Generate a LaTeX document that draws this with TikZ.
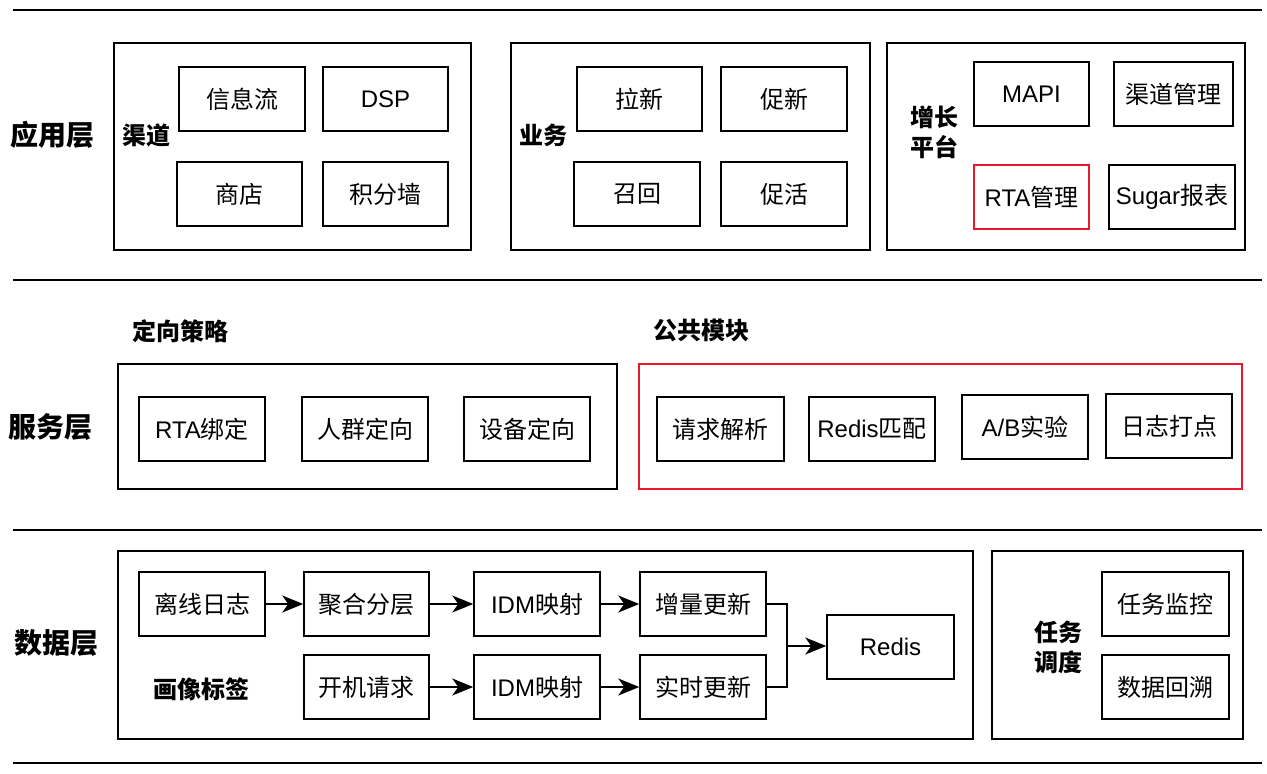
\documentclass[tikz,border=0pt]{standalone}
\usepackage{fontspec}
\setmainfont{Noto Sans CJK SC}
\newfontfamily\latinfont{Liberation Sans}
\usetikzlibrary{arrows.meta}
\newcommand\lat[1]{{\latinfont #1}}
\definecolor{hl}{HTML}{E8192C}
% box given by its corners: [options]{name}{x1}{y1}{x2}{y2}{text}
\newcommand\cbox[7][]{%
  \node[box,#1,minimum width={(#5)-(#3)},minimum height={(#6)-(#4)}]
    (#2) at ({((#3)+(#5))/2},{((#4)+(#6))/2}) {#7};}
\begin{document}
\begin{tikzpicture}[x=1pt,y=-1pt,
  box/.style={draw,line width=1.5pt,inner sep=0pt,align=center,
    font=\fontsize{24}{28}\selectfont},
  frame/.style={box},
  hlframe/.style={box,draw=hl},
  sublabel/.style={inner sep=0pt,align=center,
    font=\fontsize{24}{30}\selectfont\bfseries},
  layerlabel/.style={inner sep=0pt,font=\fontsize{28}{32}\selectfont\bfseries},
  sepline/.style={line width=2pt},
  link/.style={line width=1.5pt},
  arr/.style={link,-{Stealth[length=21pt,width=17pt,inset=6pt]}}]
\useasboundingbox (0,0) rectangle (1267,774);

% layer separators
\draw[sepline] (13,10) -- (1262,10);
\draw[sepline] (13,280) -- (1262,280);
\draw[sepline] (13,530) -- (1262,530);
\draw[sepline] (13,763) -- (1262,763);

% ---------- application layer ----------
\node[layerlabel] (appl) at (52,135) {应用层};

\cbox[frame]{chbox}{114}{43}{471}{250}{}
\node[sublabel] (chl) at (146,135) {渠道};
\cbox{xxl}{179}{67}{305}{131}{信息流}
\cbox{dsp}{323}{67}{448}{131}{\lat{DSP}}
\cbox{shop}{177}{162}{302}{226}{商店}
\cbox{jfq}{323}{162}{448}{226}{积分墙}

\cbox[frame]{ywbox}{511}{43}{870}{250}{}
\node[sublabel] (ywl) at (543,135) {业务};
\cbox{lx}{577}{67}{702}{131}{拉新}
\cbox{cx}{721}{67}{847}{131}{促新}
\cbox{zh}{574}{162}{700}{226}{召回}
\cbox{ch}{721}{162}{847}{226}{促活}

\cbox[frame]{zzbox}{887}{43}{1245}{250}{}
\node[sublabel] (zzl) at (934,132) {增长\\平台};
\cbox{mapi}{974}{62}{1089}{126}{\lat{MAPI}}
\cbox{qdgl}{1114}{62}{1233}{126}{渠道管理}
\cbox[draw=hl]{rtagl}{974}{165}{1089}{229}{\lat{RTA}管理}
\cbox{sugar}{1109}{165}{1235}{229}{\lat{Sugar}报表}

% ---------- service layer ----------
\node[layerlabel] (svcl) at (51,427) {服务层};

\node[sublabel] (dxl) at (180,331) {定向策略};
\cbox[frame]{dxbox}{118}{364}{617}{489}{}
\cbox{rtabd}{139}{397}{265}{461}{\lat{RTA}绑定}
\cbox{rqdx}{302}{397}{428}{461}{人群定向}
\cbox{sbdx}{464}{397}{590}{461}{设备定向}

\node[sublabel] (ggl) at (701,330) {公共模块};
\cbox[hlframe]{ggbox}{639}{364}{1242}{489}{}
\cbox{qqjx}{657}{397}{784}{461}{请求解析}
\cbox{redispp}{809}{397}{935}{461}{\lat{Redis}匹配}
\cbox{ab}{962}{395}{1088}{459}{\lat{A/B}实验}
\cbox{rzdd}{1106}{394}{1232}{458}{日志打点}

% ---------- data layer ----------
\node[layerlabel] (datal) at (56,643) {数据层};

\cbox[frame]{databox}{118}{551}{973}{739}{}
\cbox{lxrz}{139}{572}{265}{636}{离线日志}
\cbox{jhfc}{304}{572}{429}{636}{聚合分层}
\cbox{idma}{474}{572}{600}{636}{\lat{IDM}映射}
\cbox{zlgx}{640}{572}{766}{636}{增量更新}
\node[sublabel] (hxl) at (201,689) {画像标签};
\cbox{kjqq}{304}{655}{429}{719}{开机请求}
\cbox{idmb}{474}{655}{600}{719}{\lat{IDM}映射}
\cbox{ssgx}{640}{655}{766}{719}{实时更新}
\cbox{redis}{827}{615}{954}{679}{\lat{Redis}}

\cbox[frame]{rwbox}{992}{551}{1243}{739}{}
\node[sublabel] (rwl) at (1058,647) {任务\\调度};
\cbox{rwjk}{1102}{572}{1229}{636}{任务监控}
\cbox{sjhs}{1102}{655}{1229}{719}{数据回溯}

% data flow
\draw[arr] (lxrz) -- (jhfc);
\draw[arr] (jhfc) -- (idma);
\draw[arr] (idma) -- (zlgx);
\draw[arr] (kjqq) -- (idmb);
\draw[arr] (idmb) -- (ssgx);
\coordinate (merge) at (787,646);
\draw[link] (zlgx.east) -| (merge);
\draw[link] (ssgx.east) -| (merge);
\draw[arr] (merge) -- (redis.west |- merge);
\end{tikzpicture}
\end{document}
